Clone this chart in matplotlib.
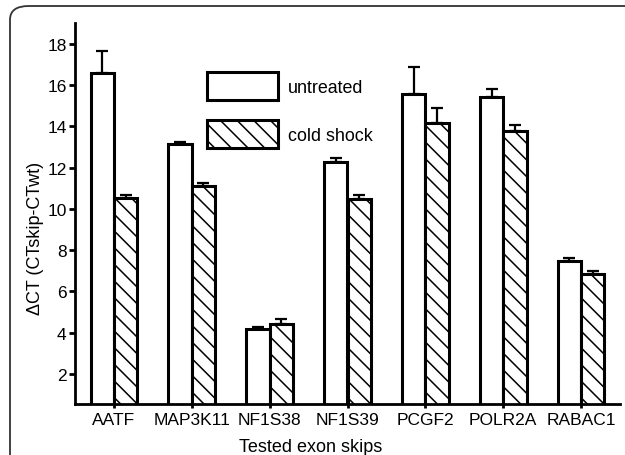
import numpy as np
import matplotlib.pyplot as plt
from matplotlib.patches import FancyBboxPatch

plt.rcParams['font.family'] = ['Liberation Sans', 'DejaVu Sans']
plt.rcParams['hatch.linewidth'] = 1.1

genes = ['AATF', 'MAP3K11', 'NF1S38', 'NF1S39', 'PCGF2', 'POLR2A', 'RABAC1']
untreated = [16.6, 13.15, 4.18, 12.28, 15.55, 15.42, 7.48]
untreated_err = [1.02, 0.08, 0.1, 0.2, 1.3, 0.38, 0.15]
cold = [10.52, 11.1, 4.44, 10.5, 14.15, 13.78, 6.83]
cold_err = [0.13, 0.16, 0.25, 0.15, 0.74, 0.3, 0.18]

fig = plt.figure(figsize=(6.25, 4.56), dpi=100)

# rounded frame around the whole panel (cut off at right/bottom like the source)
frame = FancyBboxPatch((10 / 625, -0.2), 1.2, 449 / 456 + 0.2,
                       boxstyle='round,pad=0,rounding_size=0.03',
                       transform=fig.transFigure, fill=False,
                       edgecolor='#333333', linewidth=1.3)
fig.patches.append(frame)

ax = fig.add_axes([75 / 625, 51 / 456, 545 / 625, 381 / 456])

x = np.arange(len(genes))
w = 0.3
lw = 2.2

ax.bar(x - w / 2, untreated, w, color='white', edgecolor='black',
       linewidth=lw, label='untreated', zorder=2)
ax.bar(x + w / 2, cold, w, color='white', edgecolor='black', hatch='\\\\',
       linewidth=lw, label='cold shock', zorder=2)

zeros = np.zeros(len(genes))
ax.errorbar(x - w / 2, untreated, yerr=[zeros, untreated_err], fmt='none',
            ecolor='black', elinewidth=1.6, capsize=4.5, capthick=1.6, zorder=1)
ax.errorbar(x + w / 2, cold, yerr=[zeros, cold_err], fmt='none',
            ecolor='black', elinewidth=1.6, capsize=4.5, capthick=1.6, zorder=1)

ax.set_xlim(-0.5, 6.5)
ax.set_ylim(0.55, 19)
ax.set_yticks(np.arange(2, 19, 2))
ax.set_xticks(x)
ax.set_xticklabels(genes)

for s in ['top', 'right']:
    ax.spines[s].set_visible(False)
for s in ['left', 'bottom']:
    ax.spines[s].set_linewidth(2)

ax.tick_params(axis='y', direction='out', length=4, width=2, labelsize=12.5, pad=2)
ax.tick_params(axis='x', direction='inout', length=6, width=2, labelsize=12.5, pad=3)

ax.set_ylabel('\u0394CT (CTskip-CTwt)', fontsize=13)
ax.set_xlabel('Tested exon skips', fontsize=13)
ax.yaxis.set_label_coords(-0.057, 0.436)
ax.xaxis.set_label_coords(0.433, -0.09)

ax.legend(loc='upper left', bbox_to_anchor=(0.242, 0.871), frameon=False,
          fontsize=12.9, handlelength=3.97, handleheight=2.03,
          labelspacing=1.12, handletextpad=0.55, borderpad=0, borderaxespad=0)

fig.savefig('out.png', dpi=100)
